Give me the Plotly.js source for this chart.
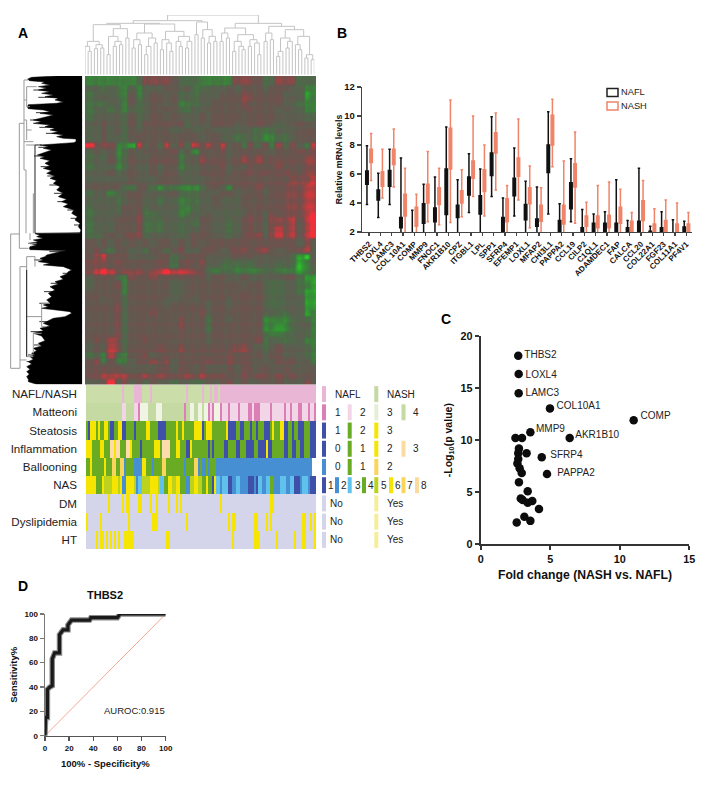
<!DOCTYPE html>
<html><head><meta charset="utf-8">
<script src="https://cdn.plot.ly/plotly-3.0.1.min.js"></script>
<style>html,body{margin:0;padding:0;background:#fff}#g{width:709px;height:788px}</style>
</head><body><div id="g"></div>
<script>
// ---------- Panel A: expression heatmap, coarse reading (0 = bright green, 4/5 = neutral, 8 = bright red)
const heatRows = [
"22222 22366 66533 32222 26665 33666 333","44343 24244 45545 33444 54555 45554 422","34443 25245 54534 34445 55665 55544 412",
"33344 25345 54523 34455 55655 55544 322","34434 24345 55533 44555 55565 55454 422","34444 35345 54544 45455 55455 55444 433",
"44544 35355 55553 44455 54455 54344 544","44545 35455 55445 44544 44443 33444 555","44544 35555 55555 54554 43343 22334 555",
"85662 21745 37463 75757 45263 62636 427","45452 35455 55635 25556 45555 54555 656","34352 35445 55524 46555 45656 55555 566",
"34442 35445 45524 45556 45465 55655 566","44453 45445 45534 45555 45565 65565 566","44444 45444 55544 44555 55555 55556 667",
"55555 33553 23322 23554 25556 55566 677","34423 45544 44533 34445 54455 45566 677","44443 45544 34423 34454 44555 55566 677",
"34443 55534 44422 34444 44455 55566 677","34444 55633 44423 44544 44465 46566 678","34445 55633 34434 35544 34565 46667 578",
"34445 55633 34434 45544 34565 46767 578","33454 56634 44434 55544 34566 46767 578","54545 45454 55454 54555 55555 55555 464",
"56435 54435 53564 45654 56656 75455 674","56755 54444 55345 55444 45454 44443 104","66656 55555 65356 56443 33334 44343 124",
"67875 66656 78777 65323 32222 33222 123","45553 26556 55555 55455 44544 44455 311","45556 25555 55445 55555 55455 43344 321",
"55555 25555 55445 55555 55555 43344 311","55455 35555 54445 45555 45555 43344 411","55556 35555 54555 55455 45555 43344 411",
"55556 35556 55555 56455 55555 44334 412","55556 35555 55565 55355 45555 22223 432","55556 35555 55565 55355 55555 22123 442",
"55556 35555 55555 55455 55555 32233 432","56576 35565 55555 55455 55556 34333 422","45476 35555 65565 55555 56654 34544 432",
"34273 25564 55555 55555 65555 45544 432","56252 24556 56455 55655 65554 44555 442","55555 44444 55455 45444 54554 54454 444",
"66777 76676 76667 67666 55656 65656 555","44584 64535 44344 33545 64544 54544 464"];
// fine vertical and horizontal stripes read over the coarse grid (2 = none, below = greener, above = redder)
const columnStripes = "21231 23122 31322 21323 12231 22312 13221 32132 21322 31223 12332 21332 13233 31323 21323 32";
const rowStripes = "2321212321 2123242122 1232212342 1232142123 2123212321 2132323214 2321243212 2123212321 2132123212 2413242432 123";
const heatColors = ["#35d82c","#2f9f30","#3c7f3c","#4c6a48","#59604f","#66564f","#774e4b","#a84141","#f2303a"];

// ---------- Panel A: annotation tracks, run lengths per patient column
const trackNames = ["NAFL/NASH","Matteoni","Steatosis","Inflammation","Ballooning","NAS","DM","Dyslipidemia","HT"];
const trackRuns = [
"a18 b1 a5 b4 a4 b1 a17 b1 a7 b1 a3 b1 a1 b2 a1 b48",
"f18 d2 f4 d2 c1 e4 f4 e3 f11 c1 f2 e2 f2 e2 f1 e2 c1 d1 c1 e3 c1 d3 c1 d4 c1 d4 c2 d1 c3 d5 c1 d6 c1 d2 c1 d3 c2 d3 c1 d2 c1",
"G1 B1 Y3 G1 Y1 G2 Y2 G1 B2 G2 Y2 B2 G4 B1 G5 Y2 G4 B4 G5 Y1 G2 Y1 G5 Y4 B1 G1 Y3 G7 Y1 B4 G2 B2 G3 B1 G2 B1 G3 B3 G1 Y1 G3 Y2 B2 G2 B1 G2 B3 G3 B3",
"Y3 G4 Y2 G3 P2 Y1 P2 G3 P2 Y1 G4 B1 G6 Y3 G1 P4 G3 Y2 G3 B2 Y1 G5 G3 B1 G1 B1 G5 B2 G4 B2 G3 B4 G2 B4 Y1 B2 G6 B2 G2 B2 G2 B2 G3 B3",
"G2 Y1 G6 Y1 G3 A2 G2 A2 L1 G4 L4 Y2 G3 L1 G4 A2 G9 L1 G4 A2 L1 G1 L2 G1 L1 G3 L48",
"Y5 G3 Y1 O4 Y3 O1 Y1 L2 Y4 O1 L1 S2 O4 Y4 O1 S2 G2 Y2 O2 Y2 G3 L2 O2 Y2 O2 G2 Y1 G2 B1 Y1 S2 L1 S3 B2 L2 S2 L4 B3 L1 B1 S2 L2 S2 G2 L3 S3 L2 S2 B3 L1 S3 L1 B3",
"N11 Y1 N6 Y1 N1 Y2 N4 Y2 N4 Y1 N2 Y1 N5 Y1 N3 Y1 N1 Y1 N10 N9 Y1 N24 Y2 N21",
"Y1 N6 Y1 N13 Y1 N11 Y3 N14 Y1 N7 N13 Y1 N1 Y2 N9 Y2 N4 Y1 N1 Y1 N15 Y2 N2 Y1 N1 Y1",
"N5 Y1 N1 Y2 N1 Y1 N1 Y1 N1 Y1 N1 Y1 N2 Y5 N16 Y2 N16 N15 Y1 N10 Y3 N8 Y1 N8 Y1 N3 Y2 N4 Y1"];
const trackCodes = "abcdefBGYPLASON";
const trackColors = ["#cbdeaa","#e9b6d6","#db7fb6","#f2d6e8","#eff4e3","#c5d9a2","#3f50a8","#69ab22","#f6e500","#fbdcaa","#478fd3","#fbd45c","#60c1ec","#bdd21c","#d4d4ea"];

// key of the annotation tracks: [row, column slot, colour, label]
const keyItems = [
[0,0,"#e9b6d6","NAFL"],[0,2,"#c5d9a2","NASH"],
[1,0,"#db7fb6","1"],[1,1,"#f2d6e8","2"],[1,2,"#e6efd5","3"],[1,3,"#c5d9a2","4"],
[2,0,"#3f50a8","1"],[2,1,"#69ab22","2"],[2,2,"#f6e500","3"],
[3,0,"#3f50a8","0"],[3,1,"#69ab22","1"],[3,2,"#f6e500","2"],[3,3,"#fbdca0","3"],
[4,0,"#478fd3","0"],[4,1,"#69ab22","1"],[4,2,"#fbd45c","2"],
[6,0,"#d4d4ea","No"],[6,2,"#f7ee9a","Yes"],[7,0,"#d4d4ea","No"],[7,2,"#f7ee9a","Yes"],[8,0,"#d4d4ea","No"],[8,2,"#f7ee9a","Yes"]];
const nasKey = [["#3f50a8","1"],["#478fd3","2"],["#60c1ec","3"],["#69ab22","4"],["#bdd21c","5"],["#f6e500","6"],["#fbd45c","7"],["#fbdca0","8"]];

// ---------- Panel A: dendrograms
// column tree: [merge height, left, right], 0 = leaf
const A1=[100,[85,0,[70,0,0]],[90,[78,0,0],[80,0,0]]], A2=[115,[60,0,0],[100,[85,0,0],[90,0,0]]], A3=[110,0,0],
 A4=[125,[105,[80,0,0],[90,0,0]],[110,[85,[60,0,0],0],[95,0,0]]],
 A5=[130,[105,[75,0,0],[95,0,[70,0,0]]],[115,[100,0,[85,0,0]],[100,[80,0,0],0]]],
 B1=[120,0,0], B2=[135,[110,0,0],[115,[95,0,0],[100,0,0]]],
 C1=[125,[100,0,0],[110,0,0]], C2=[120,[100,[70,0,0],[85,0,[75,0,0]]],[105,[85,0,0],[95,0,[60,0,0]]]],
 D1=[125,[100,0,0],[105,0,0]], D2=[110,[70,[55,0,0],0],[100,[80,0,0],0]], D3=[115,[90,0,[75,0,0]],[60,[50,0,0],[45,0,0]]];
const colTree=[179,[162,[154,[150,A1,[138,A2,A3]],[152,A4,A5]],[158,B1,B2]],[154,[140,C1,C2],[145,D1,[135,D2,D3]]]];
// row tree: outline of the dense black leaves (gene row, depth reached)
const rowEdge=[[18,170],[22,95],[26,85],[32,88],[36,135],[40,125],[45,150],[50,115],[54,140],[60,115],[65,150],[70,125],[75,160],[80,135],[85,175],[90,165],[96,190],[100,170],[104,85],[110,82],[116,85],[120,130],[125,150],[130,120],[135,160],[140,140],[145,118],[150,100],[155,125],[160,100],[165,150],[170,135],[175,165],[180,150],[185,175],[190,155],[195,190],[200,170],[205,190],[207,228],[215,228],[218,220],[222,165],[225,120],[230,145],[235,130],[240,155],[245,140],[250,125],[255,112],[260,135],[265,120],[272,150],[280,135],[288,150],[295,130],[302,155],[310,140],[318,165],[325,150],[332,170],[340,160],[350,180],[360,170],[370,190],[380,175],[388,200],[395,185],[402,205],[410,190],[420,222],[430,215],[440,232],[450,225],[460,240],[470,235],[480,243],[488,240],[491,105],[496,120],[500,110],[505,130],[510,100],[515,115],[520,85],[525,110],[530,90],[535,88],[539,90],[542,200],[545,180],[550,160],[555,140],[560,135],[565,120],[570,130],[575,115],[580,150],[585,130],[590,190],[595,200],[600,215],[605,205],[612,200],[620,180],[628,190],[635,165],[642,175],[650,150],[660,165],[670,145],[680,155],[690,140],[698,150],[705,130],[710,145],[715,125],[720,170],[725,210],[730,215],[735,205],[740,195],[745,160],[752,145],[760,130],[768,150],[775,120],[782,130],[790,100],[798,125],[805,130],[812,135],[820,115],[828,125],[835,100],[842,110],[850,95],[855,105],[860,90],[868,100],[875,85],[882,95],[890,80],[898,90],[905,80],[912,88],[920,80],[928,85],[935,85],[940,100],[943,110]];
const rowSpikes=[[28,82],[60,100],[82,115],[128,108],[150,90],[172,118],[190,138],[232,115],[258,102],[290,122],[318,142],[345,148],[370,162],[395,172],[420,202],[445,212],[465,222],[545,148],[570,102],[610,188],[640,152],[665,132],[700,118],[755,118],[785,92],[825,102],[855,84],[875,80]];
const rowBranches=[[32,492,32,895],[32,492,58,492],[32,895,60,895],[58,160,58,535],[58,535,85,535],[58,160,72,160],[72,30,72,300],[72,30,85,30],[72,90,80,90],[80,50,80,110],[80,50,110,50],[80,110,90,110],[72,215,100,215],[72,150,80,150],[80,150,80,210],[80,180,95,180],[78,300,78,490],[72,300,78,300],[78,225,105,225],[100,370,100,490],[90,490,90,510],[85,520,110,520],[60,590,60,895],[60,590,80,590],[80,560,80,860],[80,560,105,560],[105,560,105,590],[80,860,100,860],[80,740,125,740],[125,700,125,770],[125,700,150,700],[125,770,140,770],[100,790,100,850],[100,790,125,790],[60,870,80,870]];
const rowDark=[[105,225,105,490],[105,490,240,490],[105,225,125,225],[80,600,80,860]];

// ---------- Panel B: box summaries per gene
const genes=["THBS2","LOXL4","LAMC3","COL 10A1","COMP","MMP9","FNOC1","AKR1B10","CPZ","ITGBL1","LPL","SPP1","SFRP4","EFEMP1","LOXL1","MFAP2","CHI3L1","PAPPA2","CCL19","CILP2","C1QL1","ADAMDEC1","FAP","CALCA","CCL20","COL22A1","FGF23","COL11A1","PF4V1"];
const naflLow=[3.9,3.0,3.9,1.5,1.5,1.5,1.5,1.5,1.5,3.35,1.5,4.45,1.5,3.1,1.5,1.5,3.25,1.5,2.7,1.5,1.5,1.5,1.5,1.5,1.5,1.5,1.5,1.5,1.5];
const naflQ1=[5.3,4.2,5.15,2.3,1.7,2.6,2.7,3.2,3.0,4.55,3.25,5.9,1.9,4.5,2.85,2.4,6.1,1.8,3.6,1.8,1.8,1.8,1.8,1.8,1.8,1.8,1.8,1.8,1.8];
const naflMed=[5.8,4.6,5.7,2.6,1.8,3.2,3.1,4.8,3.4,5.2,3.9,6.7,2.4,5.0,3.3,2.6,7.0,2.3,4.5,2.1,2.2,2.2,2.2,2.1,2.3,1.9,2.1,1.9,2.1];
const naflQ3=[6.2,4.9,6.25,3.0,1.9,3.95,3.65,6.35,3.85,5.8,4.5,7.45,3.0,5.7,3.9,2.9,8.0,2.8,5.4,2.3,2.6,2.6,2.6,2.3,2.75,2.05,2.3,1.95,2.35];
const naflHigh=[7.95,6.05,7.7,7.1,3.5,5.3,5.8,9.25,5.6,7.4,6.35,9.95,4.35,7.8,5.5,5.1,10.3,3.95,7.05,3.55,3.25,3.4,5.6,2.8,6.4,2.4,3.4,2.85,2.75];
const nashLow=[5.55,4.35,5.1,1.5,1.5,2.7,2.5,2.65,3.05,4.45,3.1,4.9,1.5,4.2,2.3,1.5,6.5,1.5,2.6,1.5,1.5,1.5,1.5,1.5,1.5,1.5,1.5,1.5,1.5];
const nashQ1=[6.8,5.15,6.65,3.1,2.4,4.0,3.9,6.35,4.0,5.7,4.8,7.45,2.7,5.85,3.95,2.75,8.0,2.55,5.1,2.4,2.3,2.3,2.6,1.9,2.8,1.9,1.9,1.8,1.9];
const nashMed=[7.2,5.6,7.3,3.7,3.0,4.6,4.5,7.8,4.4,6.3,5.5,8.0,3.4,6.5,4.5,3.2,9.0,3.0,5.8,2.7,2.6,2.7,3.1,2.3,3.4,2.2,2.4,2.2,2.2];
const nashQ3=[7.7,6.15,7.7,4.6,3.7,5.3,5.05,9.15,4.85,6.9,6.3,8.85,4.3,7.1,5.05,3.85,10.05,3.85,6.7,3.1,3.1,3.15,3.7,2.75,4.15,2.55,2.8,2.55,2.55];
const nashHigh=[8.8,7.7,9.1,6.4,4.6,7.55,6.4,11.1,6.3,10,8,10.2,5.2,9.8,6.55,5.05,11.15,6.9,8.9,4.05,5.2,5.45,4.95,3.35,5.55,3.6,4.2,4.0,3.35];

// ---------- Panel C: scatter
const foldChange=[2.7,2.73,2.73,4.98,11,3.57,6.4,2.5,2.97,2.75,2.7,3.3,4.39,2.7,2.64,2.8,2.95,4.77,2.75,3.38,2.88,3.02,3.38,3.71,4.19,3.14,3.57,2.59];
const logP=[18.1,16.35,14.5,13.05,11.9,10.75,10.2,10.2,10.2,9.2,8.75,8.75,8.35,8.2,7.75,7.3,6.85,6.75,5.95,5.1,4.4,4.25,4.0,4.15,3.4,2.65,2.25,2.1];
const volcanoNames=["THBS2","LOXL4","LAMC3","COL10A1","COMP","MMP9","AKR1B10","SFRP4","PAPPA2"];
const volcanoNameX=[3.14,3.23,3.23,5.46,11.5,3.98,6.8,5.0,5.51];
const volcanoNameY=[18.1,16.25,14.5,13.2,12.25,11.07,10.45,8.48,6.78];

// ---------- Panel D: ROC curve
const rocX=[0,0.5,2,2,4,6,6,8,12,12,15,19,19,22,37,38,60,62,100];
const rocY=[0,15,15,38,40,41,63,68,68,83,87,87,91,95,95,97,97,100,100];
const diagonal=[0,100];

// ---------- helpers
const W=709,H=788,FF="Liberation Sans, Arial, sans-serif";
const dx=(a,b)=>[a/W,b/W], dy=(a,b)=>[1-b/H,1-a/H];
const ann=(px,py,text,o={})=>Object.assign({xref:"paper",yref:"paper",x:px/W,y:1-py/H,text,showarrow:false,xanchor:"left",yanchor:"middle",font:{family:FF,size:10,color:"#111"}},o);
const hidden=(o)=>Object.assign({visible:false,fixedrange:true},o);

// expand tables
const coarse=heatRows.map(r=>r.replace(/ /g,"").split("").map(Number));
const colFine=columnStripes.replace(/ /g,"").split("").map(Number);
const rowFine=rowStripes.replace(/ /g,"").split("").map(Number);
const heatZ=rowFine.map((rv,i)=>colFine.map((cv,j)=>{
  const base=coarse[Math.min(coarse.length-1,Math.floor(i*coarse.length/rowFine.length))][Math.min(32,Math.floor(j*33/colFine.length))];
  return base+(rv-2)*0.28+(cv-2)*0.35;}));
const trackZ=trackRuns.map(s=>{const a=[];s.split(" ").forEach(t=>{const v=trackCodes.indexOf(t[0]);for(let i=0;i<+t.slice(1);i++)a.push(v)});return a;});
const n=trackColors.length, trackScale=[];
trackColors.forEach((c,i)=>{trackScale.push([i/n,c],[(i+1)/n,c])});

// column tree layout
let leafI=0;const treeX=[],treeY=[];
function lay(nd){ if(nd===0) return {x:leafI++,h:0};
 const a=lay(nd[1]),b=lay(nd[2]),h=nd[0];
 treeX.push(a.x,a.x,b.x,b.x,null);treeY.push(a.h,h,h,b.h,null);
 return {x:(a.x+b.x)/2,h};}
lay(colTree);
const segs=l=>{const x=[],y=[];l.forEach(s=>{x.push(s[0],s[2],null);y.push(s[1],s[3],null)});return {x,y}};
const rb=segs(rowBranches),rd=segs(rowDark);
const spikeX=[],spikeY=[];rowSpikes.forEach(s=>{spikeX.push(s[1],247,null);spikeY.push(s[0],s[0],null)});

const traces=[];
traces.push({type:"scatter",mode:"lines",x:treeX,y:treeY,xaxis:"x",yaxis:"y",line:{color:"#c4c4c4",width:1},hoverinfo:"skip",showlegend:false});
traces.push({type:"scatter",mode:"lines",x:[247].concat(rowEdge.map(r=>r[1]),[247]),y:[18].concat(rowEdge.map(r=>r[0]),[943]),fill:"toself",fillcolor:"#000",line:{color:"#000",width:0.5},xaxis:"x2",yaxis:"y2",hoverinfo:"skip",showlegend:false});
traces.push({type:"scatter",mode:"lines",x:spikeX,y:spikeY,xaxis:"x2",yaxis:"y2",line:{color:"#000",width:0.8},hoverinfo:"skip",showlegend:false});
traces.push({type:"scatter",mode:"lines",x:rb.x,y:rb.y,xaxis:"x2",yaxis:"y2",line:{color:"#999",width:1},hoverinfo:"skip",showlegend:false});
traces.push({type:"scatter",mode:"lines",x:rd.x,y:rd.y,xaxis:"x2",yaxis:"y2",line:{color:"#222",width:1},hoverinfo:"skip",showlegend:false});
traces.push({type:"heatmap",z:heatZ,xaxis:"x3",yaxis:"y3",zmin:0,zmax:8,zsmooth:"best",showscale:false,hoverinfo:"skip",
  colorscale:heatColors.map((c,i)=>[i/8,c])});
traces.push({type:"heatmap",z:trackZ,y:trackNames,xaxis:"x4",yaxis:"y4",zmin:-0.5,zmax:n-0.5,showscale:false,hoverinfo:"skip",colorscale:trackScale});
const box=(name,col,lo,q1,med,q3,hi)=>({type:"box",name,x:genes,lowerfence:lo,q1,median:med,q3,upperfence:hi,xaxis:"x5",yaxis:"y5",
  line:{color:col,width:1.5},fillcolor:col,whiskerwidth:1,boxpoints:false,hoverinfo:"skip",showlegend:false});
traces.push(box("NAFL","#111",naflLow,naflQ1,naflMed,naflQ3,naflHigh));
traces.push(box("NASH","#f08468",nashLow,nashQ1,nashMed,nashQ3,nashHigh));
traces.push({type:"scatter",mode:"markers",x:foldChange,y:logP,xaxis:"x6",yaxis:"y6",marker:{color:"#0c0c0c",size:8.5},cliponaxis:false,hoverinfo:"skip",showlegend:false});
traces.push({type:"scatter",mode:"text",x:volcanoNameX,y:volcanoNameY,text:volcanoNames,textposition:"middle right",textfont:{family:FF,size:10,color:"#222"},xaxis:"x6",yaxis:"y6",cliponaxis:false,hoverinfo:"skip",showlegend:false});
traces.push({type:"scatter",mode:"lines",x:diagonal,y:diagonal,xaxis:"x7",yaxis:"y7",line:{color:"#f5a696",width:1},hoverinfo:"skip",showlegend:false});
traces.push({type:"scatter",mode:"lines",x:rocX,y:rocY,xaxis:"x7",yaxis:"y7",line:{color:"#8a8a8a",width:5.5},cliponaxis:false,hoverinfo:"skip",showlegend:false});
traces.push({type:"scatter",mode:"lines",x:rocX,y:rocY,xaxis:"x7",yaxis:"y7",line:{color:"#1a1a1a",width:3.2},cliponaxis:false,hoverinfo:"skip",showlegend:false});

const tickB={family:FF,size:9.5,color:"#111",weight:700};
const axisLine=(c,w)=>({showline:true,linecolor:c,linewidth:w,ticks:"outside",tickcolor:c,tickwidth:w,ticklen:4,showgrid:false,zeroline:false,fixedrange:true,tickfont:tickB});
const tickC={family:FF,size:10.8,color:"#111",weight:700}, tickD={family:FF,size:8,color:"#111",weight:700};
const layout={
 width:W,height:H,margin:{l:0,r:0,t:0,b:0},paper_bgcolor:"#fff",plot_bgcolor:"rgba(0,0,0,0)",showlegend:false,
 boxmode:"group",boxgap:0.27,boxgroupgap:0.4,font:{family:FF},
 xaxis:hidden({domain:dx(85,314.3),range:[0,leafI-1],anchor:"y"}),
 yaxis:hidden({domain:dy(15,74.7),range:[0,179],anchor:"x"}),
 xaxis2:hidden({domain:dx(0,82.3),range:[0,247],anchor:"y2"}),
 yaxis2:hidden({domain:dy(76,384.3),range:[943,18],anchor:"x2"}),
 xaxis3:hidden({domain:dx(85,316),anchor:"y3"}),
 yaxis3:hidden({domain:dy(76,384.5),autorange:"reversed",anchor:"x3"}),
 xaxis4:hidden({domain:dx(86,316),range:[-0.5,114.5],anchor:"y4"}),
 yaxis4:{domain:dy(385,549),autorange:"reversed",anchor:"x4",showgrid:false,zeroline:false,showline:false,ticks:"",ticklabelstandoff:8,fixedrange:true,tickfont:{family:FF,size:11.6,color:"#222"}},
 xaxis5:Object.assign(axisLine("#444",1.3),{domain:dx(362,692),type:"category",categoryorder:"array",categoryarray:genes,range:[-0.62,28.5],anchor:"y5",tickangle:-45,ticklen:3,tickfont:{family:FF,size:8,color:"#111",weight:700}}),
 yaxis5:Object.assign(axisLine("#444",1.3),{domain:dy(87,232),range:[2,12],tickvals:[2,4,6,8,10,12],anchor:"x5",
   title:{text:"<b>Relative mRNA levels</b>",font:{family:FF,size:8.8,color:"#111"},standoff:0}}),
 xaxis6:Object.assign(axisLine("#333",2),{domain:dx(480.7,689.3),range:[0,15],tickvals:[0,5,10,15],anchor:"y6",tickfont:tickC,
   title:{text:"<b>Fold change (NASH vs. NAFL)</b>",font:{family:FF,size:12.2,color:"#111"},standoff:6}}),
 yaxis6:Object.assign(axisLine("#333",2),{domain:dy(336,544.3),range:[0,20],tickvals:[0,5,10,15,20],anchor:"x6",tickfont:tickC,
   title:{text:"<b>-Log<sub>10</sub>(p value)</b>",font:{family:FF,size:10.5,color:"#111"},standoff:6}}),
 xaxis7:Object.assign(axisLine("#555",1.5),{domain:dx(45,165.7),range:[0,100],tickvals:[0,20,40,60,80,100],anchor:"y7",tickfont:tickD,
   title:{text:"<b>100% - Specificity%</b>",font:{family:FF,size:9.5,color:"#111"},standoff:8}}),
 yaxis7:Object.assign(axisLine("#777",1.5),{domain:dy(614,735.7),range:[0,100],tickvals:[0,20,40,60,80,100],anchor:"x7",tickfont:tickD,
   title:{text:"<b>Sensitivity%</b>",font:{family:FF,size:9.5,color:"#111"},standoff:5}}),
 annotations:[],shapes:[]
};
// panel letters & texts
[["A",16,33],["B",335,33],["C",439,319],["D",16,586]].forEach(p=>layout.annotations.push(ann(p[1],p[2],"<b>"+p[0]+"</b>",{font:{family:FF,size:14,color:"#000"}})));
layout.annotations.push(ann(105,595,"<b>THBS2</b>",{xanchor:"center",font:{family:FF,size:11,color:"#111"}}));
layout.annotations.push(ann(102,710,"AUROC:0.915",{font:{family:FF,size:9.5,color:"#222"}}));
// key for tracks
const rowY=i=>385+18.22*(i+0.5), slotX=[322,347.7,374.3,401.5], labX=[332.5,358,384.5,410.5], noX=[328,0,384.5,0];
const swatch=(x,cy,c,w=4)=>({type:"rect",xref:"paper",yref:"paper",x0:x/W,x1:(x+w)/W,y0:1-(cy-8)/H,y1:1-(cy+8)/H,fillcolor:c,line:{width:0},layer:"above"});
keyItems.forEach(it=>{const [r,s,c,t]=it,cy=rowY(r);layout.shapes.push(swatch(slotX[s],cy,c));
  const lx=r>=6?noX[s]:labX[s];
  layout.annotations.push(ann(lx,cy,t,{font:{family:FF,size:10,color:"#222"}}));});
const nasSwX=[322,335,347.7,362,374.3,389,401.5,415], nasLabX=[326,339,353,366,379.5,393,405,419];
nasKey.forEach((it,i)=>{const cy=rowY(5);layout.shapes.push(swatch(nasSwX[i],cy,it[0]));
  layout.annotations.push(ann(nasLabX[i],cy,it[1],{font:{family:FF,size:10,color:"#222"}}));});
// key for panel B
[["NAFL","#222",92.5],["NASH","#f08468",106]].forEach(k=>{
  layout.shapes.push({type:"rect",xref:"paper",yref:"paper",x0:607/W,x1:618/W,y0:1-(k[2]-4)/H,y1:1-(k[2]+4)/H,line:{color:k[1],width:1.5},fillcolor:"#fff"});
  layout.annotations.push(ann(619,k[2]-0.5,k[0],{font:{family:FF,size:9.3,color:"#222"}}));});
Plotly.newPlot("g",traces,layout,{displayModeBar:false,staticPlot:true});
</script></body></html>
